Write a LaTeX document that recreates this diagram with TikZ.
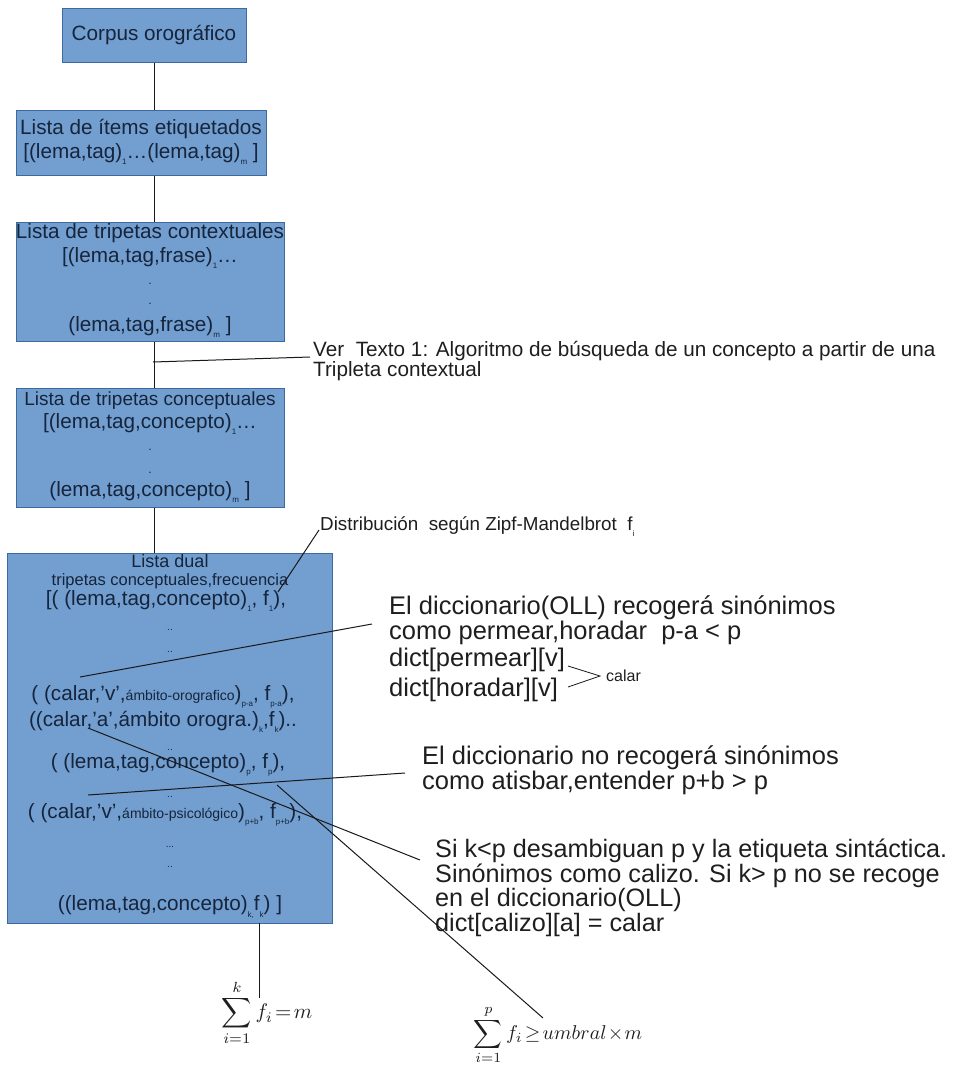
\documentclass[tikz,border=0pt]{standalone}
\usepackage[no-math]{fontspec}
\usepackage{graphicx}
\setmainfont{Liberation Sans}
\definecolor{boxfill}{RGB}{114,159,207}
\definecolor{boxline}{RGB}{60,105,160}
\definecolor{boxtext}{RGB}{22,36,60}
\definecolor{notecol}{RGB}{30,30,30}
\definecolor{linkcol}{RGB}{25,25,25}
% font size helper and lowered subscripts as set by the word processor
\newcommand\fsz[2]{\fontsize{#1}{#2}\selectfont}
\newcommand\lw[1]{\raisebox{-0.6ex}{\fontsize{8}{8}\selectfont #1}}
\begin{document}
\begin{tikzpicture}[x=1pt,y=-1pt,
  box/.style={draw=boxline, fill=boxfill, line width=0.8pt, inner sep=0pt, anchor=north west},
  lbl/.style={text=boxtext, inner sep=0pt, anchor=center},
  link/.style={draw=linkcol, line width=1pt},
  note/.style={inner sep=0pt, text=notecol, align=left, anchor=west},
  formula/.style={inner sep=0pt, text=notecol},
]
\useasboundingbox (0,0) rectangle (971,1068);

% ---- boxes of the pipeline
\node[box, minimum width=184pt, minimum height=54pt]  (b1) at (62,8) {};
\node[box, minimum width=250pt, minimum height=65pt]  (b2) at (16,110) {};
\node[box, minimum width=268pt, minimum height=119pt] (b3) at (16,222) {};
\node[box, minimum width=268pt, minimum height=119pt] (b4) at (16,388) {};
\node[box, minimum width=325pt, minimum height=370pt] (b5) at (7,553) {};

% ---- box texts
\node[lbl, font={\fsz{20.7}{24}}] (t1) at (154,35) {Corpus orográfico};

\node[lbl, font={\fsz{20.7}{24}}] (t2a) at (141,129) {Lista de ítems etiquetados};
\node[lbl, font={\fsz{20.7}{24}}] (t2b) at (141,154) {[(lema,tag)\lw{1}…(lema,tag)\lw{m} ]};

\node[lbl, font={\fsz{20.7}{24}}] (t3a) at (150,233) {Lista de tripetas contextuales};
\node[lbl, font={\fsz{20.7}{24}}] (t3b) at (150,258) {[(lema,tag,frase)\lw{1}…};
\node[lbl, font={\fsz{12}{12}}]   (t3c) at (150,284) {.};
\node[lbl, font={\fsz{12}{12}}]   (t3d) at (150,304) {.};
\node[lbl, font={\fsz{20.7}{24}}] (t3e) at (150,327) {(lema,tag,frase)\lw{m} ]};

\node[lbl, font={\fsz{19}{22}}]   (t4a) at (150,401) {Lista de tripetas conceptuales};
\node[lbl, font={\fsz{20.7}{24}}] (t4b) at (150,424) {[(lema,tag,concepto)\lw{1}…};
\node[lbl, font={\fsz{12}{12}}]   (t4c) at (150,450) {.};
\node[lbl, font={\fsz{12}{12}}]   (t4d) at (150,473) {.};
\node[lbl, font={\fsz{20.7}{24}}] (t4e) at (150,492) {(lema,tag,concepto)\lw{m} ]};

\node[lbl, font={\fsz{18}{20}}]   (t5a) at (170,561) {Lista dual};
\node[lbl, font={\fsz{16.5}{18}}] (t5b) at (170,581) {tripetas conceptuales,frecuencia};
\node[lbl, font={\fsz{20.7}{24}}] (t5c) at (166,601) {[( (lema,tag,concepto)\lw{1}, f\lw{1}),};
\node[lbl, font={\fsz{10}{10}}]   (t5d) at (170,630) {..};
\node[lbl, font={\fsz{10}{10}}]   (t5e) at (170,652) {..};
\node[lbl, font={\fsz{20.7}{24}}] (t5f) at (163,697) {( (calar,'v',{\fsz{14}{14}ámbito-orografico})\lw{p-a}, f\lw{p-a}),};
\node[lbl, font={\fsz{20.7}{24}}] (t5g) at (163,722) {((calar,'a',ámbito orogra.)\lw{k},f\lw{k})..};
\node[lbl, font={\fsz{10}{10}}]   (t5h) at (170,750) {..};
\node[lbl, font={\fsz{20.7}{24}}] (t5i) at (168,765) {( (lema,tag,concepto)\lw{p}, f\lw{p}),};
\node[lbl, font={\fsz{10}{10}}]   (t5j) at (170,797) {..};
\node[lbl, font={\fsz{20.7}{24}}] (t5k) at (165,815) {( (calar,'v',{\fsz{14}{14}ámbito-psicológico})\lw{p+b}, f\lw{p+b}),};
\node[lbl, font={\fsz{10}{10}}]   (t5l) at (170,847) {...};
\node[lbl, font={\fsz{10}{10}}]   (t5m) at (170,867) {..};
\node[lbl, font={\fsz{20.7}{24}}] (t5n) at (170,907) {((lema,tag,concepto)\lw{k,}f\lw{k}) ]};

% ---- notes on the right
\node[note, font={\fsz{20.7}{19}}] (ver) at (313,361)
  {Ver\ \ Texto 1: Algoritmo de búsqueda de un concepto a partir de una\\Tripleta contextual};
\node[note, font={\fsz{18.8}{20}}] (dist) at (320,527)
  {Distribución\ \ según Zipf-Mandelbrot\ \ f\lw{i}};
\node[note, font={\fsz{25.5}{25}}] (oll) at (389,620)
  {El diccionario(OLL) recogerá sinónimos\\como permear,horadar\ \ p-a < p};
\node[note, font={\fsz{25.5}{25}}] (dperm) at (389,660) {dict[permear][v]};
\node[note, font={\fsz{25.5}{25}}] (dhor)  at (389,690) {dict[horadar][v]};
\node[note, font={\fsz{16}{16}}]   (calar) at (606,676) {calar};
\node[note, font={\fsz{25.5}{25}}] (nooll) at (422,770)
  {El diccionario no recogerá sinónimos\\como atisbar,entender p+b > p};
\node[note, font={\fsz{25.2}{24.5}}] (sik) at (435,888)
  {Si k<p desambiguan p y la etiqueta sintáctica.\\Sinónimos como calizo. Si k> p no se recoge\\en el diccionario(OLL)\\dict[calizo][a] = calar};

% ---- frequency sums
\node[formula] (sum1) at (267,1013)
  {\scalebox{2.1}{$\displaystyle\sum_{i=1}^{k} f_i\!=\!m$}};
\node[formula] (sum2) at (558,1035)
  {\scalebox{2.0}{$\displaystyle\sum_{i=1}^{p} f_i\!\geq\! umbral\!\times\! m$}};

% ---- anchor points of the connectors
\coordinate (vstart) at (153,362);
\coordinate (vend) at (310,357);
\coordinate (f1) at (278,592);
\coordinate (distend) at (319,530);
\coordinate (pa) at (80,677);
\coordinate (ollend) at (372,624);
\coordinate (ka) at (88,728);
\coordinate (sikend) at (420,860);
\coordinate (pb) at (88,795);
\coordinate (noend) at (405,773);
\coordinate (fp) at (277,785);
\coordinate (sum2top) at (543,1018);
\coordinate (k5) at (259,923);
\coordinate (sum1top) at (259,998);
\coordinate (br1) at (568,666);
\coordinate (br2) at (568,687);
\coordinate (brtip) at (600,676);

% ---- pipeline links
\draw[link] (b1.south) -- (b1.south |- b2.north);
\draw[link] (b1.south |- b2.south) -- (b1.south |- b3.north);
\draw[link] (b1.south |- b3.south) -- (b1.south |- b4.north);
\draw[link] (b1.south |- b4.south) -- (b1.south |- b5.north);

% ---- callouts
\draw[link] (vstart) -- (vend);
\draw[link] (f1) -- (distend);
\draw[link] (pa) -- (ollend);
\draw[link] (ka) -- (sikend);
\draw[link] (pb) -- (noend);
\draw[link] (fp) -- (sum2top);
\draw[link] (k5) -- (sum1top);
\draw[link, line width=0.8pt] (br1) -- (brtip) -- (br2);
\end{tikzpicture}
\end{document}
